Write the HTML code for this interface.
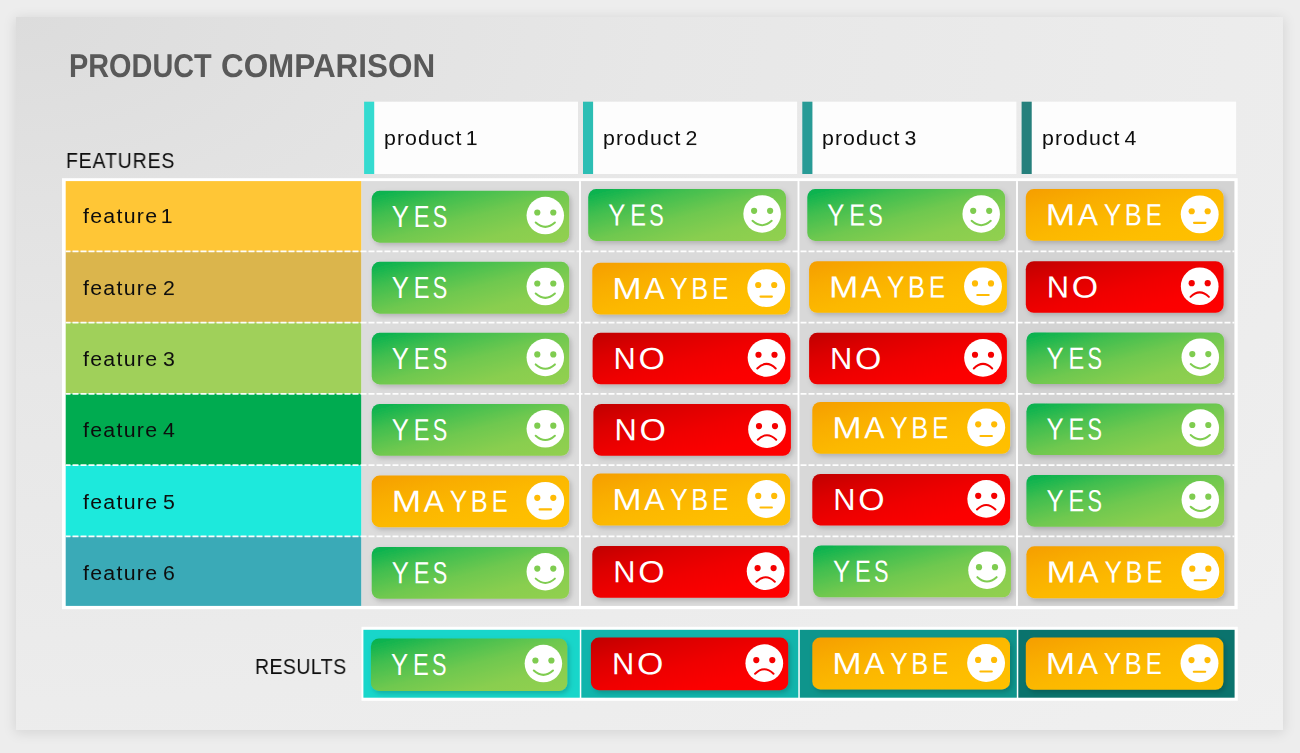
<!DOCTYPE html>
<html><head><meta charset="utf-8"><title>Product Comparison</title>
<style>
html,body{margin:0;padding:0}
body{width:1300px;height:753px;overflow:hidden;position:relative;background:#ededed;font-family:"Liberation Sans",sans-serif}
.abs{position:absolute}
#slide{left:16px;top:17px;width:1267px;height:713px;background:radial-gradient(ellipse farthest-corner at 0 0,#dcdcdc 0%,#e2e2e2 18%,#e7e7e7 36%,#ececec 68%,#f0f0f0 100%);box-shadow:0 2px 12px 1px rgba(0,0,0,.10)}
#art{left:0;top:0}
.t{position:absolute;white-space:nowrap;line-height:1}
.t,.hd,.ft{will-change:transform}
#title{left:0;top:48.5px;font-weight:bold;font-size:33px;color:#595959}
#title span{position:absolute;top:0;display:block;transform-origin:0 50%}
.cap{font-size:21.8px;color:#0c0c0c;letter-spacing:1px;transform-origin:0 50%}
.hd{position:absolute;top:127.6px;font-size:20px;line-height:1;color:#0c0c0c;white-space:nowrap;letter-spacing:1px;transform:scaleX(1.065) rotate(.03deg);transform-origin:0 50%}
.ft{position:absolute;left:83.1px;font-size:20px;line-height:1;color:#0c0c0c;white-space:nowrap;letter-spacing:1.2px;transform:scaleX(1.065) rotate(.03deg);transform-origin:0 50%}
b{position:absolute;left:0;top:0;font-weight:normal;font-size:30.6px;line-height:1;color:#fff;white-space:nowrap}
b i{position:absolute;top:0;left:0;font-style:normal;display:block;transform-origin:0 50%}
</style></head><body>
<div id="slide" class="abs"></div>

<svg id="art" class="abs" width="1300" height="753" viewBox="0 0 1300 753">
<defs>
<linearGradient id="gy" x1="0" y1="0" x2="1" y2="1"><stop offset="0" stop-color="#00b050"/><stop offset="0.25" stop-color="#40be50"/><stop offset="0.5" stop-color="#6ec850"/><stop offset="0.75" stop-color="#89ce50"/><stop offset="1" stop-color="#92d050"/></linearGradient>
<linearGradient id="gm" x1="0" y1="0" x2="1" y2="1"><stop offset="0" stop-color="#f59e00"/><stop offset="0.25" stop-color="#f9ad00"/><stop offset="0.5" stop-color="#fcb800"/><stop offset="0.75" stop-color="#febe00"/><stop offset="1" stop-color="#ffc000"/></linearGradient>
<linearGradient id="gn" x1="0" y1="0" x2="1" y2="1"><stop offset="0" stop-color="#c00000"/><stop offset="0.25" stop-color="#dc0000"/><stop offset="0.5" stop-color="#ef0000"/><stop offset="0.75" stop-color="#fb0000"/><stop offset="1" stop-color="#ff0000"/></linearGradient>
<filter id="sh" x="0" y="0" width="1300" height="753" filterUnits="userSpaceOnUse"><feDropShadow dx="2" dy="2.5" stdDeviation="2.5" flood-color="#000" flood-opacity=".19"/></filter>
</defs>
<rect x="374.10" y="101.70" width="203.90" height="72.30" fill="#fdfdfd"/>
<rect x="364.10" y="101.70" width="10.10" height="72.30" fill="#35dbd0"/>
<rect x="593.00" y="101.70" width="204.10" height="72.30" fill="#fdfdfd"/>
<rect x="583.00" y="101.70" width="10.10" height="72.30" fill="#2cbeb4"/>
<rect x="812.30" y="101.70" width="204.10" height="72.30" fill="#fdfdfd"/>
<rect x="802.30" y="101.70" width="10.10" height="72.30" fill="#289b96"/>
<rect x="1031.60" y="101.70" width="204.50" height="72.30" fill="#fdfdfd"/>
<rect x="1021.60" y="101.70" width="10.10" height="72.30" fill="#25807c"/>
<rect x="62.00" y="178.20" width="1175.70" height="431.00" fill="#fff"/>
<rect x="361.20" y="181.10" width="218.80" height="424.80" fill="#dcdcdc"/>
<rect x="580.00" y="181.10" width="218.50" height="424.80" fill="#dadada"/>
<rect x="798.50" y="181.10" width="218.50" height="424.80" fill="#d8d8d8"/>
<rect x="1017.00" y="181.10" width="217.40" height="424.80" fill="#d3d3d3"/>
<rect x="65.70" y="181.10" width="295.50" height="70.15" fill="#ffc636"/>
<rect x="65.70" y="251.25" width="295.50" height="71.25" fill="#dbb54c"/>
<rect x="65.70" y="322.50" width="295.50" height="71.25" fill="#a0d05a"/>
<rect x="65.70" y="393.75" width="295.50" height="71.25" fill="#00ab50"/>
<rect x="65.70" y="465.00" width="295.50" height="71.25" fill="#1de9dc"/>
<rect x="65.70" y="536.25" width="295.50" height="69.65" fill="#3aaab7"/>
<rect x="579.05" y="181.10" width="1.90" height="424.80" fill="#fff"/>
<rect x="797.55" y="181.10" width="1.90" height="424.80" fill="#fff"/>
<rect x="1016.05" y="181.10" width="1.90" height="424.80" fill="#fff"/>
<line x1="65.7" x2="1234.4" y1="251.35" y2="251.35" stroke="#fff" stroke-width="1.9" stroke-dasharray="6 2" stroke-dashoffset="1.2" stroke-opacity=".96"/>
<line x1="65.7" x2="1234.4" y1="322.60" y2="322.60" stroke="#fff" stroke-width="1.9" stroke-dasharray="6 2" stroke-dashoffset="1.2" stroke-opacity=".96"/>
<line x1="65.7" x2="1234.4" y1="393.85" y2="393.85" stroke="#fff" stroke-width="1.9" stroke-dasharray="6 2" stroke-dashoffset="1.2" stroke-opacity=".96"/>
<line x1="65.7" x2="1234.4" y1="465.10" y2="465.10" stroke="#fff" stroke-width="1.9" stroke-dasharray="6 2" stroke-dashoffset="1.2" stroke-opacity=".96"/>
<line x1="65.7" x2="1234.4" y1="536.35" y2="536.35" stroke="#fff" stroke-width="1.9" stroke-dasharray="6 2" stroke-dashoffset="1.2" stroke-opacity=".96"/>
<rect x="361.50" y="626.80" width="876.30" height="74.00" fill="#fff"/>
<rect x="363.40" y="629.80" width="216.40" height="67.90" fill="#18d6ca"/>
<rect x="581.30" y="629.80" width="217.00" height="67.90" fill="#11b5ac"/>
<rect x="799.80" y="629.80" width="217.00" height="67.90" fill="#0e958c"/>
<rect x="1018.30" y="629.80" width="216.30" height="67.90" fill="#0a736d"/>
<g filter="url(#sh)">
<rect x="371.70" y="190.80" width="197.50" height="51.85" fill="url(#gy)" rx="8" ry="8"/>
<rect x="371.70" y="261.80" width="197.50" height="51.85" fill="url(#gy)" rx="8" ry="8"/>
<rect x="371.70" y="332.80" width="197.50" height="51.65" fill="url(#gy)" rx="8" ry="8"/>
<rect x="371.70" y="404.00" width="197.50" height="51.85" fill="url(#gy)" rx="8" ry="8"/>
<rect x="371.70" y="475.60" width="197.50" height="51.55" fill="url(#gm)" rx="8" ry="8"/>
<rect x="371.70" y="546.90" width="197.50" height="51.85" fill="url(#gy)" rx="8" ry="8"/>
<rect x="588.20" y="189.10" width="197.80" height="51.85" fill="url(#gy)" rx="8" ry="8"/>
<rect x="592.30" y="262.70" width="197.80" height="51.85" fill="url(#gm)" rx="8" ry="8"/>
<rect x="592.60" y="332.80" width="197.80" height="51.55" fill="url(#gn)" rx="8" ry="8"/>
<rect x="593.40" y="404.00" width="197.50" height="51.85" fill="url(#gn)" rx="8" ry="8"/>
<rect x="592.30" y="473.60" width="197.80" height="51.85" fill="url(#gm)" rx="8" ry="8"/>
<rect x="592.30" y="546.00" width="197.20" height="51.85" fill="url(#gn)" rx="8" ry="8"/>
<rect x="807.30" y="189.10" width="197.80" height="51.85" fill="url(#gy)" rx="8" ry="8"/>
<rect x="809.10" y="261.20" width="197.80" height="51.65" fill="url(#gm)" rx="8" ry="8"/>
<rect x="809.10" y="332.80" width="197.80" height="51.55" fill="url(#gn)" rx="8" ry="8"/>
<rect x="812.30" y="402.00" width="197.80" height="51.85" fill="url(#gm)" rx="8" ry="8"/>
<rect x="812.30" y="473.90" width="197.80" height="51.55" fill="url(#gn)" rx="8" ry="8"/>
<rect x="813.10" y="545.40" width="197.80" height="51.95" fill="url(#gy)" rx="8" ry="8"/>
<rect x="1025.80" y="189.10" width="197.80" height="51.55" fill="url(#gm)" rx="8" ry="8"/>
<rect x="1025.80" y="261.20" width="197.80" height="51.65" fill="url(#gn)" rx="8" ry="8"/>
<rect x="1026.40" y="332.50" width="197.80" height="51.55" fill="url(#gy)" rx="8" ry="8"/>
<rect x="1026.40" y="403.40" width="197.80" height="51.65" fill="url(#gy)" rx="8" ry="8"/>
<rect x="1026.40" y="475.00" width="197.80" height="51.85" fill="url(#gy)" rx="8" ry="8"/>
<rect x="1026.40" y="546.30" width="197.80" height="51.85" fill="url(#gm)" rx="8" ry="8"/>
<rect x="370.90" y="638.50" width="196.40" height="52.45" fill="url(#gy)" rx="8" ry="8"/>
<rect x="590.90" y="637.60" width="197.30" height="52.55" fill="url(#gn)" rx="8" ry="8"/>
<rect x="812.30" y="637.60" width="197.70" height="51.85" fill="url(#gm)" rx="8" ry="8"/>
<rect x="1025.80" y="637.60" width="197.60" height="52.15" fill="url(#gm)" rx="8" ry="8"/>
</g>
<g transform="translate(545.30 215.62)"><circle r="18.75" fill="#fff"/><circle cx="-8" cy="-3.1" r="3.1" fill="#7fcc50"/><circle cx="8" cy="-3.1" r="3.1" fill="#7fcc50"/><path d="M-9.6 6.9Q0 15.6 9.6 6.9" fill="none" stroke="#7fcc50" stroke-width="2" stroke-linecap="round"/></g>
<g transform="translate(545.30 286.62)"><circle r="18.75" fill="#fff"/><circle cx="-8" cy="-3.1" r="3.1" fill="#7fcc50"/><circle cx="8" cy="-3.1" r="3.1" fill="#7fcc50"/><path d="M-9.6 6.9Q0 15.6 9.6 6.9" fill="none" stroke="#7fcc50" stroke-width="2" stroke-linecap="round"/></g>
<g transform="translate(545.30 357.52)"><circle r="18.75" fill="#fff"/><circle cx="-8" cy="-3.1" r="3.1" fill="#7fcc50"/><circle cx="8" cy="-3.1" r="3.1" fill="#7fcc50"/><path d="M-9.6 6.9Q0 15.6 9.6 6.9" fill="none" stroke="#7fcc50" stroke-width="2" stroke-linecap="round"/></g>
<g transform="translate(545.30 428.82)"><circle r="18.75" fill="#fff"/><circle cx="-8" cy="-3.1" r="3.1" fill="#7fcc50"/><circle cx="8" cy="-3.1" r="3.1" fill="#7fcc50"/><path d="M-9.6 6.9Q0 15.6 9.6 6.9" fill="none" stroke="#7fcc50" stroke-width="2" stroke-linecap="round"/></g>
<g transform="translate(545.30 500.88)"><circle r="18.95" fill="#fff"/><circle cx="-8" cy="-3.1" r="3.1" fill="#ffbb05"/><circle cx="8" cy="-3.1" r="3.1" fill="#ffbb05"/><path d="M-5.7 8.5H5.7" fill="none" stroke="#ffbb05" stroke-width="2.1" stroke-linecap="round"/></g>
<g transform="translate(545.30 571.72)"><circle r="18.75" fill="#fff"/><circle cx="-8" cy="-3.1" r="3.1" fill="#7fcc50"/><circle cx="8" cy="-3.1" r="3.1" fill="#7fcc50"/><path d="M-9.6 6.9Q0 15.6 9.6 6.9" fill="none" stroke="#7fcc50" stroke-width="2" stroke-linecap="round"/></g>
<g transform="translate(762.10 213.93)"><circle r="18.75" fill="#fff"/><circle cx="-8" cy="-3.1" r="3.1" fill="#7fcc50"/><circle cx="8" cy="-3.1" r="3.1" fill="#7fcc50"/><path d="M-9.6 6.9Q0 15.6 9.6 6.9" fill="none" stroke="#7fcc50" stroke-width="2" stroke-linecap="round"/></g>
<g transform="translate(766.20 288.12)"><circle r="18.95" fill="#fff"/><circle cx="-8" cy="-3.1" r="3.1" fill="#ffbb05"/><circle cx="8" cy="-3.1" r="3.1" fill="#ffbb05"/><path d="M-5.7 8.5H5.7" fill="none" stroke="#ffbb05" stroke-width="2.1" stroke-linecap="round"/></g>
<g transform="translate(766.50 357.83)"><circle r="18.85" fill="#fff"/><circle cx="-8" cy="-3.1" r="3.1" fill="#f40000"/><circle cx="8" cy="-3.1" r="3.1" fill="#f40000"/><path d="M-9.2 10.6Q0 1.6 9.2 10.6" fill="none" stroke="#f40000" stroke-width="2" stroke-linecap="round"/></g>
<g transform="translate(767.00 429.18)"><circle r="18.85" fill="#fff"/><circle cx="-8" cy="-3.1" r="3.1" fill="#f40000"/><circle cx="8" cy="-3.1" r="3.1" fill="#f40000"/><path d="M-9.2 10.6Q0 1.6 9.2 10.6" fill="none" stroke="#f40000" stroke-width="2" stroke-linecap="round"/></g>
<g transform="translate(766.20 499.03)"><circle r="18.95" fill="#fff"/><circle cx="-8" cy="-3.1" r="3.1" fill="#ffbb05"/><circle cx="8" cy="-3.1" r="3.1" fill="#ffbb05"/><path d="M-5.7 8.5H5.7" fill="none" stroke="#ffbb05" stroke-width="2.1" stroke-linecap="round"/></g>
<g transform="translate(765.60 571.18)"><circle r="18.85" fill="#fff"/><circle cx="-8" cy="-3.1" r="3.1" fill="#f40000"/><circle cx="8" cy="-3.1" r="3.1" fill="#f40000"/><path d="M-9.2 10.6Q0 1.6 9.2 10.6" fill="none" stroke="#f40000" stroke-width="2" stroke-linecap="round"/></g>
<g transform="translate(981.20 213.93)"><circle r="18.75" fill="#fff"/><circle cx="-8" cy="-3.1" r="3.1" fill="#7fcc50"/><circle cx="8" cy="-3.1" r="3.1" fill="#7fcc50"/><path d="M-9.6 6.9Q0 15.6 9.6 6.9" fill="none" stroke="#7fcc50" stroke-width="2" stroke-linecap="round"/></g>
<g transform="translate(983.00 286.52)"><circle r="18.95" fill="#fff"/><circle cx="-8" cy="-3.1" r="3.1" fill="#ffbb05"/><circle cx="8" cy="-3.1" r="3.1" fill="#ffbb05"/><path d="M-5.7 8.5H5.7" fill="none" stroke="#ffbb05" stroke-width="2.1" stroke-linecap="round"/></g>
<g transform="translate(983.00 357.83)"><circle r="18.85" fill="#fff"/><circle cx="-8" cy="-3.1" r="3.1" fill="#f40000"/><circle cx="8" cy="-3.1" r="3.1" fill="#f40000"/><path d="M-9.2 10.6Q0 1.6 9.2 10.6" fill="none" stroke="#f40000" stroke-width="2" stroke-linecap="round"/></g>
<g transform="translate(986.20 427.43)"><circle r="18.95" fill="#fff"/><circle cx="-8" cy="-3.1" r="3.1" fill="#ffbb05"/><circle cx="8" cy="-3.1" r="3.1" fill="#ffbb05"/><path d="M-5.7 8.5H5.7" fill="none" stroke="#ffbb05" stroke-width="2.1" stroke-linecap="round"/></g>
<g transform="translate(986.20 498.93)"><circle r="18.85" fill="#fff"/><circle cx="-8" cy="-3.1" r="3.1" fill="#f40000"/><circle cx="8" cy="-3.1" r="3.1" fill="#f40000"/><path d="M-9.2 10.6Q0 1.6 9.2 10.6" fill="none" stroke="#f40000" stroke-width="2" stroke-linecap="round"/></g>
<g transform="translate(987.00 570.27)"><circle r="18.75" fill="#fff"/><circle cx="-8" cy="-3.1" r="3.1" fill="#7fcc50"/><circle cx="8" cy="-3.1" r="3.1" fill="#7fcc50"/><path d="M-9.6 6.9Q0 15.6 9.6 6.9" fill="none" stroke="#7fcc50" stroke-width="2" stroke-linecap="round"/></g>
<g transform="translate(1199.70 214.37)"><circle r="18.95" fill="#fff"/><circle cx="-8" cy="-3.1" r="3.1" fill="#ffbb05"/><circle cx="8" cy="-3.1" r="3.1" fill="#ffbb05"/><path d="M-5.7 8.5H5.7" fill="none" stroke="#ffbb05" stroke-width="2.1" stroke-linecap="round"/></g>
<g transform="translate(1199.70 286.27)"><circle r="18.85" fill="#fff"/><circle cx="-8" cy="-3.1" r="3.1" fill="#f40000"/><circle cx="8" cy="-3.1" r="3.1" fill="#f40000"/><path d="M-9.2 10.6Q0 1.6 9.2 10.6" fill="none" stroke="#f40000" stroke-width="2" stroke-linecap="round"/></g>
<g transform="translate(1200.30 357.18)"><circle r="18.75" fill="#fff"/><circle cx="-8" cy="-3.1" r="3.1" fill="#7fcc50"/><circle cx="8" cy="-3.1" r="3.1" fill="#7fcc50"/><path d="M-9.6 6.9Q0 15.6 9.6 6.9" fill="none" stroke="#7fcc50" stroke-width="2" stroke-linecap="round"/></g>
<g transform="translate(1200.30 428.12)"><circle r="18.75" fill="#fff"/><circle cx="-8" cy="-3.1" r="3.1" fill="#7fcc50"/><circle cx="8" cy="-3.1" r="3.1" fill="#7fcc50"/><path d="M-9.6 6.9Q0 15.6 9.6 6.9" fill="none" stroke="#7fcc50" stroke-width="2" stroke-linecap="round"/></g>
<g transform="translate(1200.30 499.82)"><circle r="18.75" fill="#fff"/><circle cx="-8" cy="-3.1" r="3.1" fill="#7fcc50"/><circle cx="8" cy="-3.1" r="3.1" fill="#7fcc50"/><path d="M-9.6 6.9Q0 15.6 9.6 6.9" fill="none" stroke="#7fcc50" stroke-width="2" stroke-linecap="round"/></g>
<g transform="translate(1200.30 571.73)"><circle r="18.95" fill="#fff"/><circle cx="-8" cy="-3.1" r="3.1" fill="#ffbb05"/><circle cx="8" cy="-3.1" r="3.1" fill="#ffbb05"/><path d="M-5.7 8.5H5.7" fill="none" stroke="#ffbb05" stroke-width="2.1" stroke-linecap="round"/></g>
<g transform="translate(543.40 663.62)"><circle r="18.75" fill="#fff"/><circle cx="-8" cy="-3.1" r="3.1" fill="#7fcc50"/><circle cx="8" cy="-3.1" r="3.1" fill="#7fcc50"/><path d="M-9.6 6.9Q0 15.6 9.6 6.9" fill="none" stroke="#7fcc50" stroke-width="2" stroke-linecap="round"/></g>
<g transform="translate(764.30 663.13)"><circle r="18.85" fill="#fff"/><circle cx="-8" cy="-3.1" r="3.1" fill="#f40000"/><circle cx="8" cy="-3.1" r="3.1" fill="#f40000"/><path d="M-9.2 10.6Q0 1.6 9.2 10.6" fill="none" stroke="#f40000" stroke-width="2" stroke-linecap="round"/></g>
<g transform="translate(986.10 663.02)"><circle r="18.95" fill="#fff"/><circle cx="-8" cy="-3.1" r="3.1" fill="#ffbb05"/><circle cx="8" cy="-3.1" r="3.1" fill="#ffbb05"/><path d="M-5.7 8.5H5.7" fill="none" stroke="#ffbb05" stroke-width="2.1" stroke-linecap="round"/></g>
<g transform="translate(1199.50 663.18)"><circle r="18.95" fill="#fff"/><circle cx="-8" cy="-3.1" r="3.1" fill="#ffbb05"/><circle cx="8" cy="-3.1" r="3.1" fill="#ffbb05"/><path d="M-5.7 8.5H5.7" fill="none" stroke="#ffbb05" stroke-width="2.1" stroke-linecap="round"/></g>
</svg>
<div id="title" class="t"><span style="left:68.7px;transform:scaleX(.875) rotate(.03deg)">PRODUCT </span><span style="left:220.5px;transform:scaleX(.952) rotate(.03deg)">COMPARISON</span></div>
<div class="t cap" style="left:66.0px;top:149.6px;transform:scaleX(.892) rotate(.03deg)">FEATURES</div>
<div class="t cap" style="left:254.6px;top:655.8px;letter-spacing:.5px;transform:scaleX(.894) rotate(.03deg)">RESULTS</div>
<div class="hd" style="left:384.2px">product <span style="margin-left:-3.6px">1</span></div>
<div class="hd" style="left:603.1px">product <span style="margin-left:-2.9px">2</span></div>
<div class="hd" style="left:822.4px">product <span style="margin-left:-2.9px">3</span></div>
<div class="hd" style="left:1041.7px">product <span style="margin-left:-2.9px">4</span></div>
<div class="ft" style="top:206.20px">feature <span style="margin-left:-4.4px">1</span></div>
<div class="ft" style="top:277.56px">feature <span style="margin-left:-2.4px">2</span></div>
<div class="ft" style="top:348.92px">feature <span style="margin-left:-2.4px">3</span></div>
<div class="ft" style="top:420.28px">feature <span style="margin-left:-2.4px">4</span></div>
<div class="ft" style="top:491.64px">feature <span style="margin-left:-2.4px">5</span></div>
<div class="ft" style="top:563.00px">feature <span style="margin-left:-2.4px">6</span></div>
<b style="transform:translate(371.70px,201.12px)"><i style="left:20.24px;transform:scaleX(0.839) rotate(.03deg)">Y</i><i style="left:42.46px;transform:scaleX(0.772) rotate(.03deg)">E</i><i style="left:60.51px;transform:scaleX(0.710) rotate(.03deg)">S</i></b>
<b style="transform:translate(371.70px,272.12px)"><i style="left:20.24px;transform:scaleX(0.839) rotate(.03deg)">Y</i><i style="left:42.46px;transform:scaleX(0.772) rotate(.03deg)">E</i><i style="left:60.51px;transform:scaleX(0.710) rotate(.03deg)">S</i></b>
<b style="transform:translate(371.70px,343.02px)"><i style="left:20.24px;transform:scaleX(0.839) rotate(.03deg)">Y</i><i style="left:42.46px;transform:scaleX(0.772) rotate(.03deg)">E</i><i style="left:60.51px;transform:scaleX(0.710) rotate(.03deg)">S</i></b>
<b style="transform:translate(371.70px,414.32px)"><i style="left:20.24px;transform:scaleX(0.839) rotate(.03deg)">Y</i><i style="left:42.46px;transform:scaleX(0.772) rotate(.03deg)">E</i><i style="left:60.51px;transform:scaleX(0.710) rotate(.03deg)">S</i></b>
<b style="transform:translate(371.70px,485.78px)"><i style="left:19.91px;transform:scaleX(1.153) rotate(.03deg)">M</i><i style="left:52.44px;transform:scaleX(0.996) rotate(.03deg)">A</i><i style="left:77.63px;transform:scaleX(0.855) rotate(.03deg)">Y</i><i style="left:98.62px;transform:scaleX(0.829) rotate(.03deg)">B</i><i style="left:119.73px;transform:scaleX(0.784) rotate(.03deg)">E</i></b>
<b style="transform:translate(371.70px,557.22px)"><i style="left:20.24px;transform:scaleX(0.839) rotate(.03deg)">Y</i><i style="left:42.46px;transform:scaleX(0.772) rotate(.03deg)">E</i><i style="left:60.51px;transform:scaleX(0.710) rotate(.03deg)">S</i></b>
<b style="transform:translate(588.20px,199.43px)"><i style="left:20.24px;transform:scaleX(0.839) rotate(.03deg)">Y</i><i style="left:42.46px;transform:scaleX(0.772) rotate(.03deg)">E</i><i style="left:60.51px;transform:scaleX(0.710) rotate(.03deg)">S</i></b>
<b style="transform:translate(592.30px,273.02px)"><i style="left:19.91px;transform:scaleX(1.153) rotate(.03deg)">M</i><i style="left:52.44px;transform:scaleX(0.996) rotate(.03deg)">A</i><i style="left:77.63px;transform:scaleX(0.855) rotate(.03deg)">Y</i><i style="left:98.62px;transform:scaleX(0.829) rotate(.03deg)">B</i><i style="left:119.73px;transform:scaleX(0.784) rotate(.03deg)">E</i></b>
<b style="transform:translate(592.60px,342.98px)"><i style="left:20.87px;transform:scaleX(1.006) rotate(.03deg)">N</i><i style="left:46.30px;transform:scaleX(1.106) rotate(.03deg)">O</i></b>
<b style="transform:translate(593.40px,414.32px)"><i style="left:20.87px;transform:scaleX(1.006) rotate(.03deg)">N</i><i style="left:46.30px;transform:scaleX(1.106) rotate(.03deg)">O</i></b>
<b style="transform:translate(592.30px,483.93px)"><i style="left:19.91px;transform:scaleX(1.153) rotate(.03deg)">M</i><i style="left:52.44px;transform:scaleX(0.996) rotate(.03deg)">A</i><i style="left:77.63px;transform:scaleX(0.855) rotate(.03deg)">Y</i><i style="left:98.62px;transform:scaleX(0.829) rotate(.03deg)">B</i><i style="left:119.73px;transform:scaleX(0.784) rotate(.03deg)">E</i></b>
<b style="transform:translate(592.30px,556.33px)"><i style="left:20.87px;transform:scaleX(1.006) rotate(.03deg)">N</i><i style="left:46.30px;transform:scaleX(1.106) rotate(.03deg)">O</i></b>
<b style="transform:translate(807.30px,199.43px)"><i style="left:20.24px;transform:scaleX(0.839) rotate(.03deg)">Y</i><i style="left:42.46px;transform:scaleX(0.772) rotate(.03deg)">E</i><i style="left:60.51px;transform:scaleX(0.710) rotate(.03deg)">S</i></b>
<b style="transform:translate(809.10px,271.42px)"><i style="left:19.91px;transform:scaleX(1.153) rotate(.03deg)">M</i><i style="left:52.44px;transform:scaleX(0.996) rotate(.03deg)">A</i><i style="left:77.63px;transform:scaleX(0.855) rotate(.03deg)">Y</i><i style="left:98.62px;transform:scaleX(0.829) rotate(.03deg)">B</i><i style="left:119.73px;transform:scaleX(0.784) rotate(.03deg)">E</i></b>
<b style="transform:translate(809.10px,342.98px)"><i style="left:20.87px;transform:scaleX(1.006) rotate(.03deg)">N</i><i style="left:46.30px;transform:scaleX(1.106) rotate(.03deg)">O</i></b>
<b style="transform:translate(812.30px,412.32px)"><i style="left:19.91px;transform:scaleX(1.153) rotate(.03deg)">M</i><i style="left:52.44px;transform:scaleX(0.996) rotate(.03deg)">A</i><i style="left:77.63px;transform:scaleX(0.855) rotate(.03deg)">Y</i><i style="left:98.62px;transform:scaleX(0.829) rotate(.03deg)">B</i><i style="left:119.73px;transform:scaleX(0.784) rotate(.03deg)">E</i></b>
<b style="transform:translate(812.30px,484.07px)"><i style="left:20.87px;transform:scaleX(1.006) rotate(.03deg)">N</i><i style="left:46.30px;transform:scaleX(1.106) rotate(.03deg)">O</i></b>
<b style="transform:translate(813.10px,555.77px)"><i style="left:20.24px;transform:scaleX(0.839) rotate(.03deg)">Y</i><i style="left:42.46px;transform:scaleX(0.772) rotate(.03deg)">E</i><i style="left:60.51px;transform:scaleX(0.710) rotate(.03deg)">S</i></b>
<b style="transform:translate(1025.80px,199.27px)"><i style="left:19.91px;transform:scaleX(1.153) rotate(.03deg)">M</i><i style="left:52.44px;transform:scaleX(0.996) rotate(.03deg)">A</i><i style="left:77.63px;transform:scaleX(0.855) rotate(.03deg)">Y</i><i style="left:98.62px;transform:scaleX(0.829) rotate(.03deg)">B</i><i style="left:119.73px;transform:scaleX(0.784) rotate(.03deg)">E</i></b>
<b style="transform:translate(1025.80px,271.42px)"><i style="left:20.87px;transform:scaleX(1.006) rotate(.03deg)">N</i><i style="left:46.30px;transform:scaleX(1.106) rotate(.03deg)">O</i></b>
<b style="transform:translate(1026.40px,342.68px)"><i style="left:20.24px;transform:scaleX(0.839) rotate(.03deg)">Y</i><i style="left:42.46px;transform:scaleX(0.772) rotate(.03deg)">E</i><i style="left:60.51px;transform:scaleX(0.710) rotate(.03deg)">S</i></b>
<b style="transform:translate(1026.40px,413.62px)"><i style="left:20.24px;transform:scaleX(0.839) rotate(.03deg)">Y</i><i style="left:42.46px;transform:scaleX(0.772) rotate(.03deg)">E</i><i style="left:60.51px;transform:scaleX(0.710) rotate(.03deg)">S</i></b>
<b style="transform:translate(1026.40px,485.32px)"><i style="left:20.24px;transform:scaleX(0.839) rotate(.03deg)">Y</i><i style="left:42.46px;transform:scaleX(0.772) rotate(.03deg)">E</i><i style="left:60.51px;transform:scaleX(0.710) rotate(.03deg)">S</i></b>
<b style="transform:translate(1026.40px,556.62px)"><i style="left:19.91px;transform:scaleX(1.153) rotate(.03deg)">M</i><i style="left:52.44px;transform:scaleX(0.996) rotate(.03deg)">A</i><i style="left:77.63px;transform:scaleX(0.855) rotate(.03deg)">Y</i><i style="left:98.62px;transform:scaleX(0.829) rotate(.03deg)">B</i><i style="left:119.73px;transform:scaleX(0.784) rotate(.03deg)">E</i></b>
<b style="transform:translate(370.90px,649.12px)"><i style="left:20.24px;transform:scaleX(0.839) rotate(.03deg)">Y</i><i style="left:42.46px;transform:scaleX(0.772) rotate(.03deg)">E</i><i style="left:60.51px;transform:scaleX(0.710) rotate(.03deg)">S</i></b>
<b style="transform:translate(590.90px,648.28px)"><i style="left:20.87px;transform:scaleX(1.006) rotate(.03deg)">N</i><i style="left:46.30px;transform:scaleX(1.106) rotate(.03deg)">O</i></b>
<b style="transform:translate(812.30px,647.92px)"><i style="left:19.91px;transform:scaleX(1.153) rotate(.03deg)">M</i><i style="left:52.44px;transform:scaleX(0.996) rotate(.03deg)">A</i><i style="left:77.63px;transform:scaleX(0.855) rotate(.03deg)">Y</i><i style="left:98.62px;transform:scaleX(0.829) rotate(.03deg)">B</i><i style="left:119.73px;transform:scaleX(0.784) rotate(.03deg)">E</i></b>
<b style="transform:translate(1025.80px,648.08px)"><i style="left:19.91px;transform:scaleX(1.153) rotate(.03deg)">M</i><i style="left:52.44px;transform:scaleX(0.996) rotate(.03deg)">A</i><i style="left:77.63px;transform:scaleX(0.855) rotate(.03deg)">Y</i><i style="left:98.62px;transform:scaleX(0.829) rotate(.03deg)">B</i><i style="left:119.73px;transform:scaleX(0.784) rotate(.03deg)">E</i></b>
</body></html>
